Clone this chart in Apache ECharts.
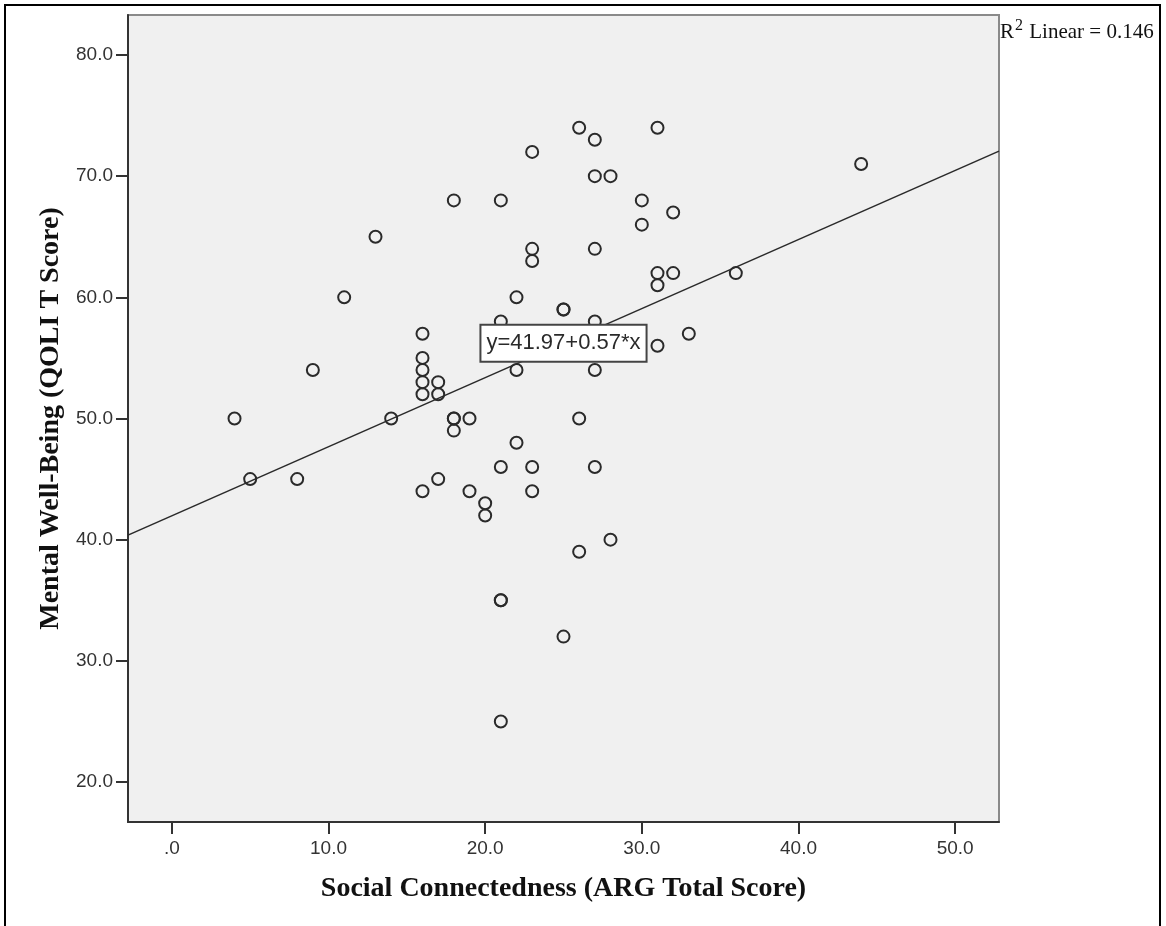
<!DOCTYPE html>
<html>
<head>
<meta charset="utf-8">
<script src="https://cdn.jsdelivr.net/npm/echarts@6/dist/echarts.min.js"></script>
<style>
html,body{margin:0;padding:0;background:#fff;}
#chart{width:1166px;height:926px;}
</style>
</head>
<body>
<div id="chart"></div>
<script>
// Data
const xValues = [4,5,8,9,11,13,14,
  16,16,16,16,16,16,
  17,17,17,
  18,18,18,18,
  19,19,
  20,20,
  21,21,21,21,21,21,
  22,22,22,
  23,23,23,23,23,
  25,25,25,
  26,26,26,
  27,27,27,27,27,27,
  28,28,
  30,30,
  31,31,31,31,
  32,32,
  33,
  36,
  44];
const yValues = [50,45,45,54,60,65,50,
  57,55,54,53,52,44,
  53,52,45,
  68,50,50,49,
  50,44,
  43,42,
  68,58,46,35,35,25,
  60,54,48,
  72,64,63,46,44,
  59,59,32,
  74,50,39,
  73,70,64,58,54,46,
  70,40,
  68,66,
  74,62,61,56,
  67,62,
  57,
  62,
  71];
const xTickValues = [0,10,20,30,40,50];
const yTickValues = [20,30,40,50,60,70,80];
const fitIntercept = 41.97;
const fitSlope = 0.57;
const r2Linear = '0.146';
const xRange = [-2.8, 52.8];
const yRange = [16.7, 83.3];
const eqLabelX = 25;

const points = xValues.map((x, i) => [x, yValues[i]]);
const fitLine = xRange.map(x => [x, fitIntercept + fitSlope * x]);
const fmt = v => (v === 0 ? '.0' : v.toFixed(1));

const chart = echarts.init(document.getElementById('chart'));
const tickFont = {fontFamily: 'Liberation Sans, Arial, sans-serif', fontSize: 19, color: '#333'};
const nameFont = {fontFamily: 'Liberation Serif, Times New Roman, serif', fontWeight: 'bold', fontSize: 28, color: '#111'};

chart.setOption({
  animation: false,
  grid: {left: 128, right: 167, top: 15, bottom: 104, show: true,
    backgroundColor: '#f0f0f0', borderColor: '#8a8a8a', borderWidth: 2},
  xAxis: {
    type: 'value', min: xRange[0], max: xRange[1],
    splitLine: {show: false},
    axisLine: {onZero: false, lineStyle: {color: '#333', width: 2}},
    axisTick: {show: true, customValues: xTickValues, length: 12, lineStyle: {color: '#333', width: 2}},
    axisLabel: Object.assign({customValues: xTickValues, formatter: fmt, margin: 17}, tickFont),
    name: 'Social Connectedness (ARG Total Score)',
    nameLocation: 'middle', nameGap: 53, nameTextStyle: nameFont
  },
  yAxis: {
    type: 'value', min: yRange[0], max: yRange[1],
    splitLine: {show: false},
    axisLine: {onZero: false, lineStyle: {color: '#333', width: 2}},
    axisTick: {show: true, customValues: yTickValues, length: 12, lineStyle: {color: '#333', width: 2}},
    axisLabel: Object.assign({customValues: yTickValues, formatter: fmt, margin: 15}, tickFont),
    name: 'Mental Well-Being (QOLI T Score)',
    nameLocation: 'middle', nameGap: 51, nameTextStyle: nameFont
  },
  series: [
    {
      type: 'line', data: fitLine, showSymbol: false, silent: true,
      lineStyle: {color: '#2a2a2a', width: 1.6}, z: 3
    },
    {
      type: 'scatter', data: points, symbol: 'circle', symbolSize: 12, z: 4,
      itemStyle: {color: 'rgba(0,0,0,0)', borderColor: '#2a2a2a', borderWidth: 2, opacity: 1}
    },
    {
      type: 'scatter', data: [[eqLabelX, fitIntercept + fitSlope * eqLabelX]], symbolSize: 0, z: 10,
      itemStyle: {opacity: 1},
      label: {
        show: true, position: 'inside',
        formatter: 'y=' + fitIntercept.toFixed(2) + '+' + fitSlope.toFixed(2) + '*x',
        fontFamily: 'Liberation Sans, Arial, sans-serif', fontSize: 22, color: '#2a2a2a',
        backgroundColor: '#ffffff', borderColor: '#444', borderWidth: 2, padding: [7, 5, 6, 5]
      }
    }
  ],
  graphic: [
    {
      type: 'rect', silent: true, z: 100,
      shape: {x: 5, y: 5, width: 1155, height: 940},
      style: {fill: 'none', stroke: '#000', lineWidth: 2}
    },
    {
      type: 'text', left: 1000, top: 18, z: 100,
      style: {
        text: '{r|R}{s|2}{r| Linear = ' + r2Linear + '}',
        rich: {
          r: {fontFamily: 'Liberation Serif, Times New Roman, serif', fontSize: 21, fill: '#111', verticalAlign: 'bottom'},
          s: {fontFamily: 'Liberation Serif, Times New Roman, serif', fontSize: 16, fill: '#111', verticalAlign: 'top', padding: [0, 1, 9, 1]}
        }
      }
    }
  ]
});
</script>
</body>
</html>
